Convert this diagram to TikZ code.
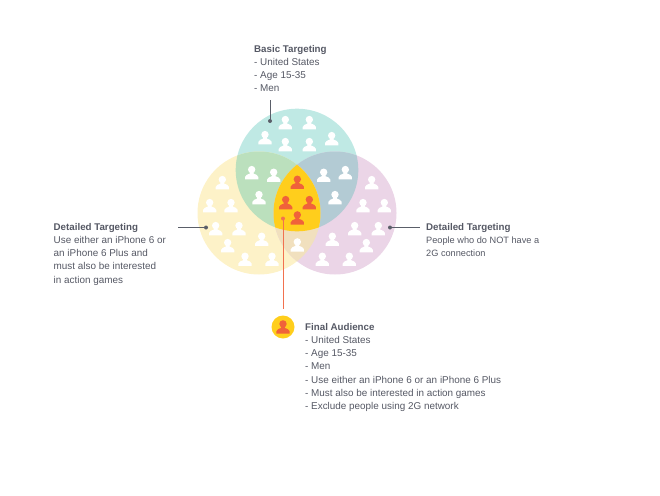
\documentclass[tikz,border=0pt]{standalone}
\usepackage{fontspec}
\setmainfont{Liberation Sans}
\definecolor{cteal}{HTML}{BFE9E4}
\definecolor{cyellow}{HTML}{FDF2C8}
\definecolor{cpink}{HTML}{EBD5E7}
\definecolor{cgreen}{HTML}{BBE0BD}
\definecolor{cblue}{HTML}{B3CBD4}
\definecolor{ctan}{HTML}{F1E0BE}
\definecolor{ccore}{HTML}{FFCE1C}
\definecolor{cicon}{HTML}{F0623A}
\definecolor{corangeline}{HTML}{F2714F}
\definecolor{cdark}{HTML}{5A5E69}
\definecolor{ctext}{HTML}{555864}
\newcommand{\tcircle}{(297,170) circle (61.3)}
\newcommand{\ycircle}{(259,213) circle (61.5)}
\newcommand{\pcircle}{(335,213) circle (61.5)}
\newcommand{\person}[3]{%
  \fill[#3] ({#1},{#2-3.1}) circle (3.7);
  \fill[#3] ({#1-6.6},{#2+6.6}) -- ({#1-6.6},{#2+4.2})
    .. controls ({#1-6.6},{#2+2.2}) and ({#1-3.6},{#2+1.9}) .. ({#1-1.9},{#2+0.9})
    -- ({#1-1.9},{#2-1}) -- ({#1+1.9},{#2-1}) -- ({#1+1.9},{#2+0.9})
    .. controls ({#1+3.6},{#2+1.9}) and ({#1+6.6},{#2+2.2}) .. ({#1+6.6},{#2+4.2})
    -- ({#1+6.6},{#2+6.6}) -- cycle;}
\newcommand{\hd}[1]{{\fontsize{9.75}{13.2}\selectfont\bfseries #1}}
\tikzset{
  label text/.style={anchor=north west, inner sep=0pt, align=left, text=ctext,
    font=\fontsize{9.9}{13.2}\selectfont},
  end dot/.style={circle, inner sep=0pt, minimum size=4pt},
  lead/.style={draw=cdark, line width=0.8pt}
}
\begin{document}
\begin{tikzpicture}[x=1pt,y=-1pt]
\useasboundingbox (0,0) rectangle (660,495);
% circles
\fill[cteal] \tcircle;
\fill[cyellow] \ycircle;
\fill[cpink] \pcircle;
\begin{scope}\clip \tcircle; \fill[cgreen] \ycircle; \fill[cblue] \pcircle; \end{scope}
\begin{scope}\clip \ycircle; \fill[ctan] \pcircle; \end{scope}
\begin{scope}\clip \tcircle; \clip \ycircle; \fill[ccore] \pcircle; \end{scope}
% white people
\foreach \a/\b in {286/68,358/68,225/113,425/116,286/134,358/134,
  185/218,251/226,207/293,401/226,466/218,435/293,
  97/248,59/317,123/317,77/386,147/386,113/437,215/418,165/478,246/478,
  322/435,
  545/248,519/317,583/317,494/386,565/386,427/418,529/437,397/478,478/478}
  {\person{190+\a/3}{100+\b/3}{white}}
% core people
\foreach \a/\b in {322/247,287/308,358/308,322/354}
  {\person{190+\a/3}{100+\b/3}{cicon}}
% texts
\node[label text] (basic) at (254,45) {\hd{Basic Targeting}\\- United States\\- Age 15-35\\- Men};
\node[label text] (left) at (53.5,223) {\hd{Detailed Targeting}\\Use either an iPhone 6 or\\an iPhone 6 Plus and\\must also be interested\\in action games};
\node[label text] (right) at (426,223) {\hd{Detailed Targeting}\\{\fontsize{9.2}{13.2}\selectfont People who do NOT have a}\\{\fontsize{9.2}{13.2}\selectfont 2G connection}};
\node[label text] (final) at (305,323) {\hd{Final Audience}\\- United States\\- Age 15-35\\- Men\\- Use either an iPhone 6 or an iPhone 6 Plus\\- Must also be interested in action games\\- Exclude people using 2G network};
% final icon
\node[circle, fill=ccore, inner sep=0pt, minimum size=23pt] (badge) at (283,327) {};
\person{283}{327}{cicon}
% connectors
\coordinate (ctop) at (270,100);
\coordinate (cleft) at (178,227.5);
\coordinate (cright) at (420,227.5);
\coordinate (cbottom) at (283,309);
\node[end dot, fill=cdark] (dtop) at (270,121) {};
\draw[lead] (ctop) -- (dtop.center);
\node[end dot, fill=cdark] (dleft) at (206,227.5) {};
\draw[lead] (cleft) -- (dleft.center);
\node[end dot, fill=cdark] (dright) at (390,227.5) {};
\draw[lead] (dright.center) -- (cright);
\node[end dot, fill=corangeline] (dcore) at (283,218.5) {};
\draw[corangeline, line width=1pt] (dcore.center) -- (cbottom);
\end{tikzpicture}
\end{document}
